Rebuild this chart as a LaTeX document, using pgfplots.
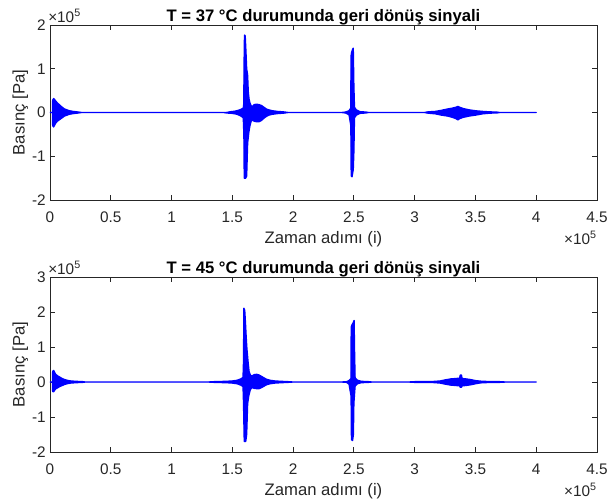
\documentclass[border=0pt]{standalone}
\usepackage{fontspec}
\setmainfont{Liberation Sans}
\usepackage{pgfplots}
\pgfplotsset{compat=1.18}
\definecolor{axgray}{RGB}{38,38,38}
\definecolor{sigblue}{RGB}{0,0,255}

\pgfplotsset{
  matlabsub/.style={
    width=410.25pt, height=131.25pt, scale only axis,
    clip=false,
    xmin=0, xmax=450000,
    xtick={0,50000,100000,150000,200000,250000,300000,350000,400000,450000},
    scaled x ticks=base 10:-5,
    scaled y ticks=base 10:-5,
    xtick scale label code/.code={},
    ytick scale label code/.code={×10\textsuperscript{5}},
    every y tick scale label/.style={at={(rel axis cs:0,1)}, anchor=south west,
      inner sep=0pt, xshift=1.5pt, yshift=1.5pt, text=axgray,
      font=\fontsize{11.5}{13}\selectfont},
    /pgf/number format/assume math mode=true,
    tick label style={font=\fontsize{11.5}{13}\selectfont, text=axgray},
    xticklabel style={anchor=base, inner sep=0pt, yshift=-16.5pt},
    yticklabel style={anchor=east, inner sep=0pt, xshift=-3pt},
    axis line style={draw=axgray, line width=0.6pt},
    tick style={draw=axgray, line width=0.6pt},
    major tick length=4pt,
    tick align=inside,
    xtick pos=both, ytick pos=both,
    every axis x label/.style={at={(rel axis cs:0.5,0)}, anchor=base,
      inner sep=0pt, yshift=-32.6pt, text=axgray,
      font=\fontsize{12.5}{14}\selectfont},
    every axis y label/.style={at={(axis description cs:-0.0393,0.5)}, rotate=90,
      anchor=south, inner sep=0pt, text=axgray,
      font=\fontsize{12.5}{14}\selectfont},
    every axis title/.style={at={(rel axis cs:0.5,1)}, anchor=base,
      inner sep=0pt, yshift=3pt, font=\bfseries\fontsize{12.5}{14}\selectfont},
    xlabel={Zaman adımı (i)},
    ylabel={Basınç [Pa]},
  }
}

\begin{document}
\begin{tikzpicture}
\useasboundingbox (0,0) rectangle (456pt,-375.75pt);

% T = 37 C
\begin{axis}[matlabsub, at={(37.5pt,-150pt)}, anchor=south west,
  ymin=-200000, ymax=200000,
  ytick={-200000,-100000,0,100000,200000},
  title={T = 37 °C durumunda geri dönüş sinyali}]
\addplot[draw=sigblue, fill=sigblue, line width=1pt, line join=round] coordinates {
(0,0) (2000,0) (2200,28000) (3000,32000) (4500,27000) (6000,22000) (8000,17000)
(10000,12000) (12000,8000) (14000,6000) (16000,4000) (19000,2500) (23000,1200) (26000,0)
(145000,0) (148000,1500) (152000,3000) (155000,5000) (157000,7000) (159000,10000)
(159400,20000) (159700,120000) (160000,177000) (160600,175000) (161200,140000)
(161800,100000) (162600,85000) (163100,48000) (163800,30000) (164500,22000)
(165500,15000) (166500,14000) (168000,18000) (170000,19000) (172000,18000)
(174000,16000) (176000,12000) (178000,8000) (180000,6000) (183000,4000)
(187000,2500) (192000,1500) (196000,0)
(240000,0) (243000,1000) (246000,4000) (247400,10000) (247700,130000)
(248200,138000) (249000,145000) (249500,147000) (250000,60000) (250500,12000)
(252000,6000) (255000,2000) (260000,1000) (262000,0)
(308000,0) (311000,1500) (317000,2500) (322000,5000) (327000,8000) (331000,10000)
(334000,12000) (335500,14000) (337000,12000) (340000,9000) (345000,6000)
(350000,4000) (356000,2500) (362000,1500) (368000,800) (370000,0)
(400000,0)
(370000,0) (368000,-800) (362000,-1500) (356000,-3000) (350000,-6000)
(345000,-8000) (340000,-11000) (337000,-14000) (335500,-17000) (334000,-14000)
(331000,-11000) (327000,-8000) (322000,-6000) (317000,-3000) (311000,-1500) (308000,0)
(262000,0) (260000,-1000) (255000,-2000) (252000,-6000) (250500,-12000)
(250000,-90000) (249500,-130000) (248500,-147000) (247800,-145000) (247500,-30000)
(246000,-5000) (243000,-1000) (240000,0)
(196000,0) (192000,-1500) (187000,-2500) (183000,-4000) (180000,-6000)
(178000,-9000) (176000,-13000) (174000,-18000) (172000,-21000) (170000,-21000)
(168000,-20000) (166500,-17000) (165500,-20000) (164500,-30000) (163600,-45000)
(162600,-70000) (161800,-145000) (161000,-150000) (159800,-150000) (159500,-50000)
(159000,-12000) (157000,-8000) (154000,-4000) (150000,-2000) (145000,-1000) (143000,0)
(26000,0) (23000,-1200) (19000,-2500) (16000,-4000) (14000,-6000) (12000,-8000)
(10000,-12000) (8000,-16000) (6000,-20000) (4500,-25000) (3000,-33000)
(2200,-30000) (2000,0) (0,0)
};
\node[anchor=north east, inner sep=0pt, yshift=-23.5pt, text=axgray,
  font=\fontsize{11.5}{13}\selectfont] at (rel axis cs:1,0) {×10\textsuperscript{5}};
\end{axis}

% T = 45 C
\begin{axis}[matlabsub, at={(37.5pt,-339pt)}, anchor=south west,
  ymin=-200000, ymax=300000,
  ytick={-200000,-100000,0,100000,200000,300000},
  title={T = 45 °C durumunda geri dönüş sinyali}]
\addplot[draw=sigblue, fill=sigblue, line width=1pt, line join=round] coordinates {
(0,0) (2000,0) (2200,30000) (3000,33000) (4500,23000) (6000,18000) (8000,14000)
(10000,10000) (12000,7000) (14000,5000) (17000,3000) (21000,2000) (27000,1000) (29000,0)
(130000,0) (135000,1000) (145000,2000) (150000,3000) (154000,5000) (157000,9000)
(158800,13000) (159200,60000) (159500,211000) (160200,205000) (160800,170000)
(161400,129000) (162000,95000) (163100,52000) (163800,30000) (164800,20000)
(166000,17000) (168000,21000) (170000,22000) (172000,20000) (174000,16000)
(176000,12000) (178000,8000) (181000,5000) (185000,3000) (190000,2000)
(196000,1000) (200000,0)
(240000,0) (244000,1000) (246000,4000) (247600,10000) (247800,157000)
(248300,162000) (249500,170000) (250200,176000) (250600,80000) (251000,12000)
(253000,5000) (256000,2000) (262000,1000) (265000,0)
(295000,0) (300000,1000) (315000,1500) (321000,3000) (325000,6000) (330000,9000)
(334000,10000) (337000,11000) (337500,20000) (338500,20000) (339000,10000)
(342000,9000) (346000,7000) (350000,4000) (354000,2500) (360000,1500)
(370000,1000) (375000,0)
(400000,0)
(375000,0) (370000,-1000) (360000,-1500) (354000,-2500) (350000,-5000)
(346000,-8000) (342000,-10000) (339000,-11000) (338500,-15000) (337500,-15000)
(337000,-11000) (334000,-10000) (330000,-9000) (325000,-6000) (321000,-3000)
(315000,-1500) (300000,-1000) (295000,0)
(265000,0) (262000,-1000) (256000,-2000) (253000,-5000) (251000,-12000)
(250000,-60000) (249600,-150000) (248900,-167000) (248000,-165000) (247700,-40000)
(246000,-6000) (244000,-1000) (240000,0)
(200000,0) (196000,-1000) (190000,-2000) (185000,-3000) (181000,-5000)
(178000,-8000) (176000,-12000) (174000,-16000) (172000,-19000) (170000,-19000)
(168000,-18000) (166000,-16000) (164800,-22000) (163500,-40000) (162600,-62000)
(161800,-150000) (161000,-170000) (159800,-170000) (159200,-60000) (158800,-13000)
(157000,-9000) (154000,-5000) (150000,-3000) (145000,-2000) (135000,-1000) (130000,0)
(29000,0) (27000,-1000) (21000,-2000) (17000,-3000) (14000,-5000) (12000,-7000)
(10000,-10000) (8000,-13000) (6000,-17000) (4500,-20000) (3000,-28000)
(2200,-27000) (2000,0) (0,0)
};
\node[anchor=north east, inner sep=0pt, yshift=-23.5pt, text=axgray,
  font=\fontsize{11.5}{13}\selectfont] at (rel axis cs:1,0) {×10\textsuperscript{5}};
\end{axis}
\end{tikzpicture}
\end{document}
